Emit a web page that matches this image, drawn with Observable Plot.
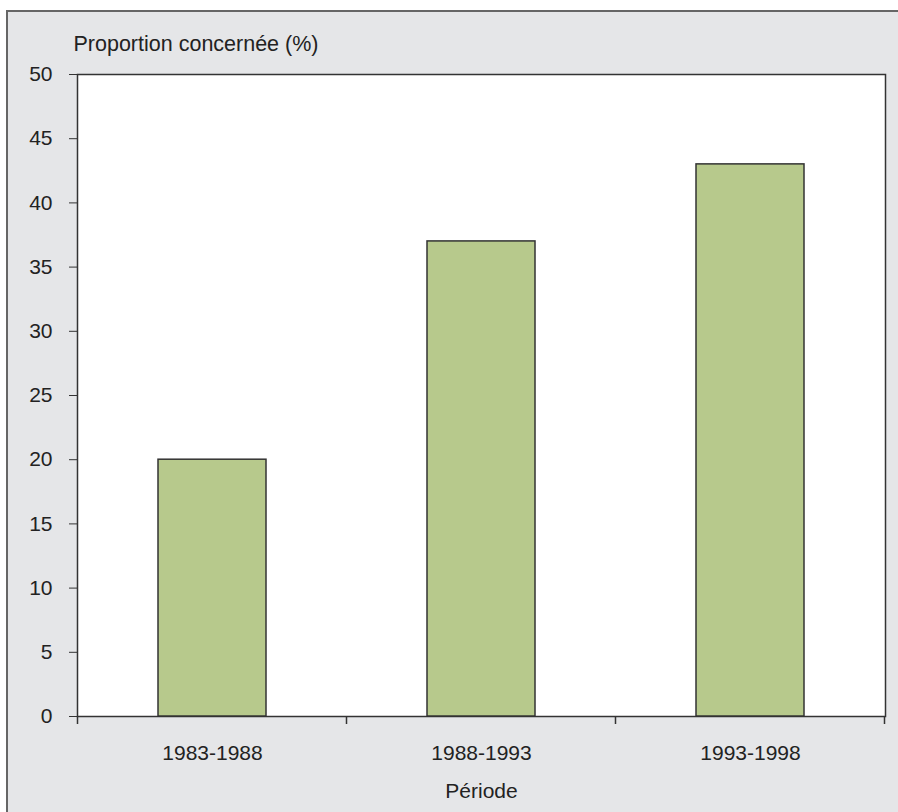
<!DOCTYPE html>
<html><head><meta charset="utf-8">
<script src="https://cdn.jsdelivr.net/npm/d3@7"></script>
<script src="https://cdn.jsdelivr.net/npm/@observablehq/plot@0.6"></script>
<style>
body{margin:0;background:#fff;}
#wrap{position:relative;width:898px;height:812px;overflow:hidden;font-family:"Liberation Sans",Arial,sans-serif;}
#bg{position:absolute;left:6px;top:10px;width:1000px;height:900px;background:#e5e6e8;border-left:2px solid #666;border-top:2px solid #666;}
#chart{position:absolute;left:0;top:0;}
</style></head><body>
<div id="wrap"><div id="bg"></div><div id="chart"></div></div>
<script>
const periods = ["1983-1988", "1988-1993", "1993-1998"];
const values = [20, 37, 43];
const yTicks = [0, 5, 10, 15, 20, 25, 30, 35, 40, 45, 50];
const yLabel = "Proportion concernée (%)";
const xLabel = "Période";

const data = periods.map((p, i) => ({periode: p, value: values[i]}));

const chart = Plot.plot({
  width: 898, height: 812,
  marginLeft: 77, marginRight: 13, marginTop: 74, marginBottom: 96,
  style: {background: "transparent", fontFamily: '"Liberation Sans", Arial, sans-serif', fontSize: "21px", color: "#222"},
  x: {domain: periods, paddingInner: 0.6, paddingOuter: 0.3, label: null},
  y: {domain: [0, 50], label: null},
  marks: [
    Plot.frame({fill: "white", stroke: "#333", strokeWidth: 1.5}),
    Plot.barY(data, {x: "periode", y: "value", fill: "#b7c98c", stroke: "#333", strokeWidth: 1.5}),
    Plot.axisY({ticks: yTicks, tickSize: 8, tickPadding: 17, stroke: "#333", fill: "#222", label: null}),
    Plot.axisX({tickSize: 0, tickPadding: 29, fill: "#222", label: xLabel, labelAnchor: "center", labelOffset: 81, labelArrow: "none"}),
    Plot.text([yLabel], {frameAnchor: "top-left", dx: -4, dy: -24, textAnchor: "start", lineAnchor: "bottom", fontSize: 21.5, fill: "#222"})
  ]
});
document.getElementById("chart").appendChild(chart);

// category boundary ticks on the x axis, from the plot's band scale
const sx = chart.scale("x");
const sy = chart.scale("y");
const gap = (sx.step - sx.bandwidth) / 2;
const bounds = periods.map(p => sx.apply(p) - gap).concat([sx.apply(periods[periods.length - 1]) + sx.bandwidth + gap]);
const y0 = sy.apply(0);
d3.select(chart).append("g")
  .attr("stroke", "#333").attr("stroke-width", 1.5)
  .selectAll("line").data(bounds).join("line")
  .attr("x1", d => d).attr("x2", d => d)
  .attr("y1", y0).attr("y2", y0 + 8);
</script>
</body></html>
